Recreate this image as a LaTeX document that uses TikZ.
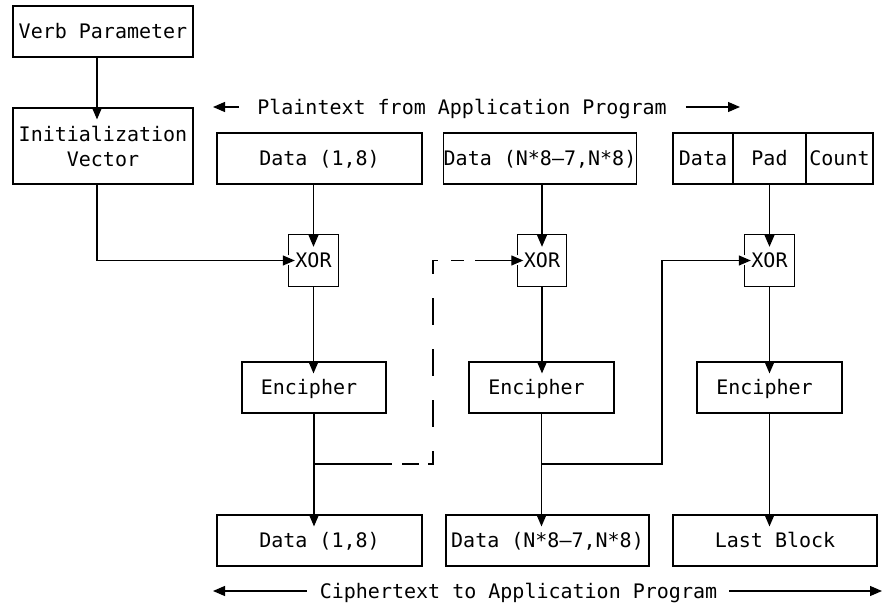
\documentclass[tikz,border=0pt]{standalone}
\usepackage{fontspec}
\setmainfont{DejaVu Sans Mono}
\usetikzlibrary{arrows.meta,calc}
\begin{document}
\begin{tikzpicture}[x=1pt,y=-1pt,
  every node/.style={font=\fontsize{20}{25}\selectfont, inner sep=0pt},
  box/.style={draw, line width=1.2pt, minimum height=51pt},
  txt/.style={text height=14.6pt, text depth=0pt},
  conn/.style={line width=1.2pt},
  tip/.style={-{Triangle[length=12pt,width=10pt]}},
  arr/.style={conn, tip, shorten >=-12pt},
  harr/.style={conn, tip, shorten >=-6pt}]
\useasboundingbox (0,0) rectangle (884,609);

% top row
\node[box,txt,minimum width=180pt] (verb) at (103,31.5) {Verb Parameter};
\node[box,minimum width=180pt,minimum height=76pt,align=center] (iv) at (103,146) {Initialization\\Vector};
\node[txt] (plain) at (462,107) {Plaintext from Application Program};
\coordinate (pl) at (213,107);
\coordinate (pr) at (740,107);
\node[box,txt,minimum width=205pt] (d1) at (319.5,158.5) {Data (1,8)};
\node[box,txt,minimum width=192pt] (dn) at (540,158.5) {Data (N*8–7,N*8)};
\node[box,txt,minimum width=60pt] (ldata) at (703,158.5) {Data};
\node[box,txt,minimum width=73pt] (lpad) at (769.5,158.5) {Pad};
\node[box,txt,minimum width=67pt] (lcount) at (839.5,158.5) {Count};

% XOR
\node[txt,minimum width=49pt,minimum height=51pt] (x1) at (313.5,260.5) {XOR};
\node[txt,minimum width=49pt,minimum height=51pt] (x2) at (542,260.5) {XOR};
\node[txt,minimum width=49pt,minimum height=51pt] (x3) at (769.5,260.5) {XOR};
\foreach \n in {x1,x2,x3}
  \draw[conn] ($(\n.west)+(0,-5)$) -- (\n.north west) -- (\n.north east)
     -- (\n.south east) -- (\n.south west) -- ($(\n.west)+(0,5)$);

% Encipher
\node[box,txt,minimum width=144pt] (e1) at (314,387.5) {Encipher\kern10pt};
\node[box,txt,minimum width=145pt] (e2) at (541.5,387.5) {Encipher\kern10pt};
\node[box,txt,minimum width=145pt] (e3) at (769.5,387.5) {Encipher\kern10pt};

% bottom row
\node[box,txt,minimum width=205pt] (o1) at (319.5,540.5) {Data (1,8)};
\node[box,txt,minimum width=203pt] (o2) at (547.5,540.5) {Data (N*8–7,N*8)};
\node[box,txt,minimum width=204pt] (o3) at (775,540.5) {Last Block};
\node[txt] (ciph) at (518.5,591) {Ciphertext to Application Program};
\coordinate (cl) at (213,591);
\coordinate (cr) at (882,591);

% label arrows
\draw[conn,tip] ([xshift=-18pt]plain.west) -- (pl);
\draw[conn,tip] ([xshift=19pt]plain.east) -- (pr);
\draw[conn,tip] ([xshift=-13pt]ciph.west) -- (cl);
\draw[conn,tip] ([xshift=12pt]ciph.east) -- (cr);

% connectors
\draw[arr] ([xshift=-6pt]verb.south) -- ([xshift=-6pt]iv.north);
\draw[harr] ([xshift=-6pt]iv.south) |- (x1.west);
\draw[arr] (d1.south -| x1) -- (x1.north);
\draw[arr] (x1.south) -- (x1.south |- e1.north);
\draw[arr] (e1.south) -- (e1.south |- o1.north);

\coordinate (j1) at (314,464);
\coordinate (k1) at (392,464);
\coordinate (c1) at (433,464);
\coordinate (c2) at (433,260.5);
\coordinate (m1) at (475,260.5);
\draw[conn] (j1) -- (k1);
\draw[conn, line cap=rect, dash pattern=on 15pt off 11pt, dash phase=15pt] (k1) -- (c1);
\draw[conn, line cap=rect, dash pattern=on 25pt off 26pt, dash phase=13pt] (c1) -- (c2);
\draw[conn, line cap=rect, dash pattern=on 4pt off 15pt on 11pt off 20pt] (c2) -- (m1);
\draw[harr] (m1) -- (x2.west);

\draw[arr] (dn.south -| x2) -- (x2.north);
\draw[arr] (x2.south) -- (x2.south |- e2.north);
\draw[arr] (e2.south) -- (e2.south |- o2.north);

\coordinate (j2) at (541.5,464);
\coordinate (c3) at (662,464);
\draw[harr] (j2) -- (c3) |- (x3.west);

\draw[arr] (lpad.south) -- (x3.north);
\draw[arr] (x3.south) -- (x3.south |- e3.north);
\draw[arr] (e3.south) -- (e3.south |- o3.north);
\end{tikzpicture}
\end{document}
